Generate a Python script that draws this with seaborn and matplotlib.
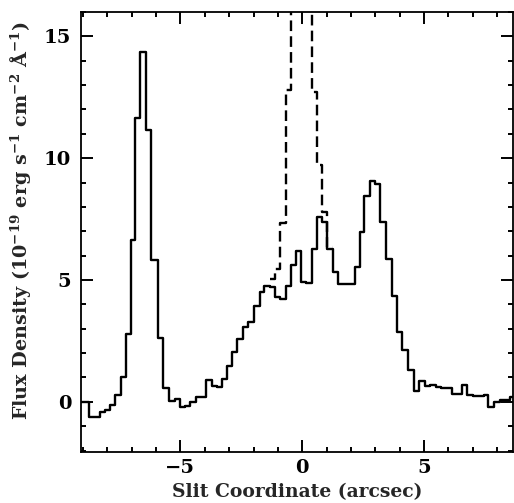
import matplotlib
matplotlib.use("Agg")
import matplotlib.pyplot as plt
from matplotlib.ticker import MultipleLocator
import seaborn as sns
import pandas as pd

# Left edges of the slit bins (arcsec) and the last right edge
bin_left = [-9.20, -8.75, -8.53, -8.32, -8.09, -7.87, -7.67, -7.43, -7.23, -7.02,
            -6.86, -6.65, -6.42, -6.19, -5.94, -5.71, -5.47, -5.23, -5.02, -4.81,
            -4.59, -4.37, -4.15, -3.93, -3.72, -3.49, -3.29, -3.09, -2.88, -2.66,
            -2.44, -2.21, -1.99, -1.75, -1.55, -1.34, -1.12, -0.91, -0.68, -0.48,
            -0.24, -0.04, 0.17, 0.41, 0.60, 0.82, 1.02, 1.25, 1.47, 1.70,
            1.93, 2.16, 2.36, 2.55, 2.77, 3.00, 3.21, 3.44, 3.67, 3.90,
            4.11, 4.35, 4.58, 4.80, 5.04, 5.23, 5.47, 5.70, 5.91, 6.13,
            6.34, 6.55, 6.77, 6.99, 7.21, 7.44, 7.64, 7.88, 8.10, 8.32,
            8.53]
last_edge = 8.78

# Flux density (1e-19 erg/s/cm2/A) per bin, solid profile
flux = [0.00, -0.62, -0.62, -0.41, -0.33, -0.15, 0.26, 1.02, 2.80, 6.65,
        11.65, 14.35, 11.15, 5.84, 2.62, 0.58, 0.05, 0.12, -0.22, -0.17,
        0.00, 0.18, 0.18, 0.88, 0.64, 0.59, 0.94, 1.47, 2.06, 2.56,
        3.08, 3.26, 3.92, 4.52, 4.76, 4.70, 4.29, 4.22, 4.76, 5.62,
        6.17, 4.93, 4.87, 6.27, 7.60, 7.38, 6.28, 5.34, 4.84, 4.84,
        4.84, 5.54, 6.97, 8.43, 9.08, 8.95, 7.40, 5.88, 4.34, 2.85,
        2.12, 1.30, 0.45, 0.87, 0.65, 0.70, 0.62, 0.55, 0.55, 0.32,
        0.32, 0.68, 0.27, 0.22, 0.22, 0.30, -0.20, 0.00, 0.07, 0.07,
        0.18]

# Dashed profile (nuclear region, before subtraction)
nuc_left = [-1.34, -1.12, -0.91, -0.68, -0.48, -0.24, -0.04, 0.17, 0.41, 0.60, 0.82, 1.02]
nuc_last_edge = 1.25
nuc_flux = [5.03, 5.44, 7.36, 12.80, 40.0, 40.0, 40.0, 40.0, 12.70, 9.73, 7.78, 6.37]

x_ticks = [-5, 0, 5]
y_ticks = [0, 5, 10, 15]

sns.set_style("ticks")
plt.rcParams['font.family'] = ['DejaVu Serif']
plt.rcParams['font.weight'] = 'bold'
plt.rcParams['mathtext.fontset'] = 'dejavuserif'
plt.rcParams['mathtext.default'] = 'bf'

fig = plt.figure(figsize=(5.14, 5.03), dpi=100)
ax = fig.add_axes([0.1576, 0.1014, 0.8395, 0.8747])

df_main = pd.DataFrame({"x": bin_left + [last_edge], "y": flux + [flux[-1]]})
df_nuc = pd.DataFrame({"x": nuc_left + [nuc_last_edge], "y": nuc_flux + [nuc_flux[-1]]})

sns.lineplot(data=df_nuc, x="x", y="y", ax=ax, estimator=None, sort=False,
             drawstyle="steps-post", color="black", linewidth=1.7,
             linestyle=(0, (4.5, 2.2)))
sns.lineplot(data=df_main, x="x", y="y", ax=ax, estimator=None, sort=False,
             drawstyle="steps-post", color="black", linewidth=1.7)

ax.set_xlim(-9.08, 8.63)
ax.set_ylim(-2.06, 16.0)
ax.set_xticks(x_ticks)
ax.set_yticks(y_ticks)
ax.xaxis.set_minor_locator(MultipleLocator(1))
ax.yaxis.set_minor_locator(MultipleLocator(1))
ax.tick_params(which='both', direction='in', top=True, right=True,
               width=1.4, colors='black', labelsize=14)
ax.tick_params(which='major', length=8.5)
ax.tick_params(which='minor', length=3.8)
ax.tick_params(axis='x', which='major', pad=5)
ax.tick_params(axis='y', which='major', pad=7)
for s in ax.spines.values():
    s.set_linewidth(1.3)
    s.set_color('black')

ax.set_xlabel("Slit Coordinate (arcsec)", fontsize=13.5, fontweight='bold', labelpad=4.5)
ax.set_ylabel("Flux Density (10$^{-19}$ erg s$^{-1}$ cm$^{-2}$ Å$^{-1}$)",
              fontsize=13.8, fontweight='bold')
ax.yaxis.set_label_coords(-0.111, 0.525)

for lab in ax.get_xticklabels() + ax.get_yticklabels():
    lab.set_fontweight('bold')

fig.savefig("out.png", dpi=100)
